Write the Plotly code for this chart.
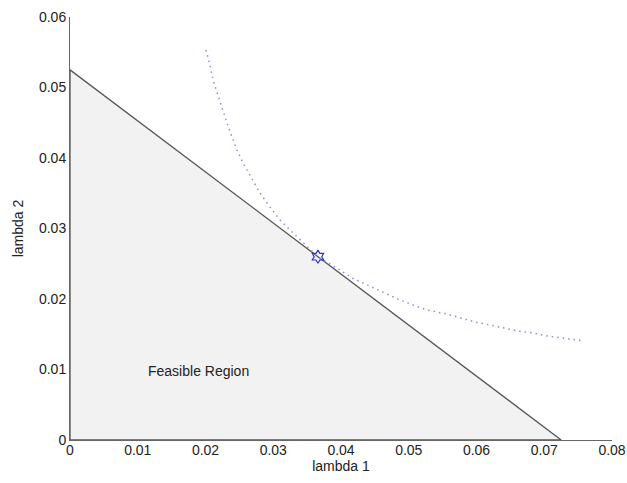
import plotly.graph_objects as go

# Feasible region boundary (line lambda1/0.0725 + lambda2/0.0525 = 1)
region_x = [0, 0, 0.0725, 0]
region_y = [0, 0.0525, 0, 0]

# Dotted level curve
curve_x = [0.02007, 0.02066, 0.02111, 0.02170, 0.02244, 0.02317, 0.02391, 0.02465,
           0.02554, 0.02672, 0.02804, 0.02952, 0.03100, 0.03247, 0.03395, 0.03661,
           0.03985, 0.04162, 0.04649, 0.04871, 0.05063, 0.05269, 0.05565, 0.05756,
           0.05978, 0.06199, 0.06391, 0.06613, 0.06834, 0.07041, 0.07262, 0.07587]
curve_y = [0.05532, 0.05319, 0.05106, 0.04922, 0.04709, 0.04496, 0.04298, 0.04113,
           0.03929, 0.03730, 0.03504, 0.03305, 0.03121, 0.02979, 0.02837, 0.02596,
           0.02411, 0.02298, 0.02085, 0.01986, 0.01915, 0.01844, 0.01787, 0.01730,
           0.01674, 0.01631, 0.01589, 0.01546, 0.01518, 0.01475, 0.01447, 0.01404]

# Optimum point
opt_x = [0.0366]
opt_y = [0.0260]

x_ticks = [0, 0.01, 0.02, 0.03, 0.04, 0.05, 0.06, 0.07, 0.08]
x_labels = ["0", "0.01", "0.02", "0.03", "0.04", "0.05", "0.06", "0.07", "0.08"]
y_ticks = [0, 0.01, 0.02, 0.03, 0.04, 0.05, 0.06]
y_labels = ["0", "0.01", "0.02", "0.03", "0.04", "0.05", "0.06"]

FONT = "Liberation Sans, Arial, sans-serif"

fig = go.Figure()
fig.add_trace(go.Scatter(x=region_x, y=region_y, mode="lines", fill="toself",
                         fillcolor="#f2f2f2", line=dict(color="#555555", width=1.3),
                         hoverinfo="skip", showlegend=False))
fig.add_trace(go.Scatter(x=curve_x, y=curve_y, mode="lines",
                         line=dict(color="#8a8aff", width=1.5, dash="1.5px,4px"),
                         showlegend=False))
fig.add_trace(go.Scatter(x=opt_x, y=opt_y, mode="markers",
                         marker=dict(symbol="hexagram-open", size=10,
                                     color="#3333cc", line=dict(width=1.2, color="#3333cc")),
                         showlegend=False))

fig.add_annotation(x=0.0189, y=0.0098, text="Feasible Region", showarrow=False,
                   font=dict(family=FONT, size=14, color="#222222"))

axis_common = dict(showgrid=False, zeroline=False, showline=True, linecolor="#666666",
                   linewidth=1, ticks="inside", ticklen=5, tickcolor="#666666",
                   layer="below traces", automargin=False,
                   tickfont=dict(family=FONT, size=14, color="#222222"),
                   title_font=dict(family=FONT, size=14, color="#222222"))

fig.update_xaxes(range=[0, 0.08], tickvals=x_ticks, ticktext=x_labels,
                 title_text="lambda 1", title_standoff=0, ticklabelstandoff=-3, **axis_common)
fig.update_yaxes(range=[0, 0.06], tickvals=y_ticks, ticktext=y_labels,
                 title_text="lambda 2", title_standoff=12, **axis_common)

fig.update_layout(width=627, height=483, plot_bgcolor="white", paper_bgcolor="white",
                  margin=dict(l=70, r=15, t=17, b=43))

fig.write_html("out.html", config={"displayModeBar": False},
               post_script="document.body.style.margin='0px';")
